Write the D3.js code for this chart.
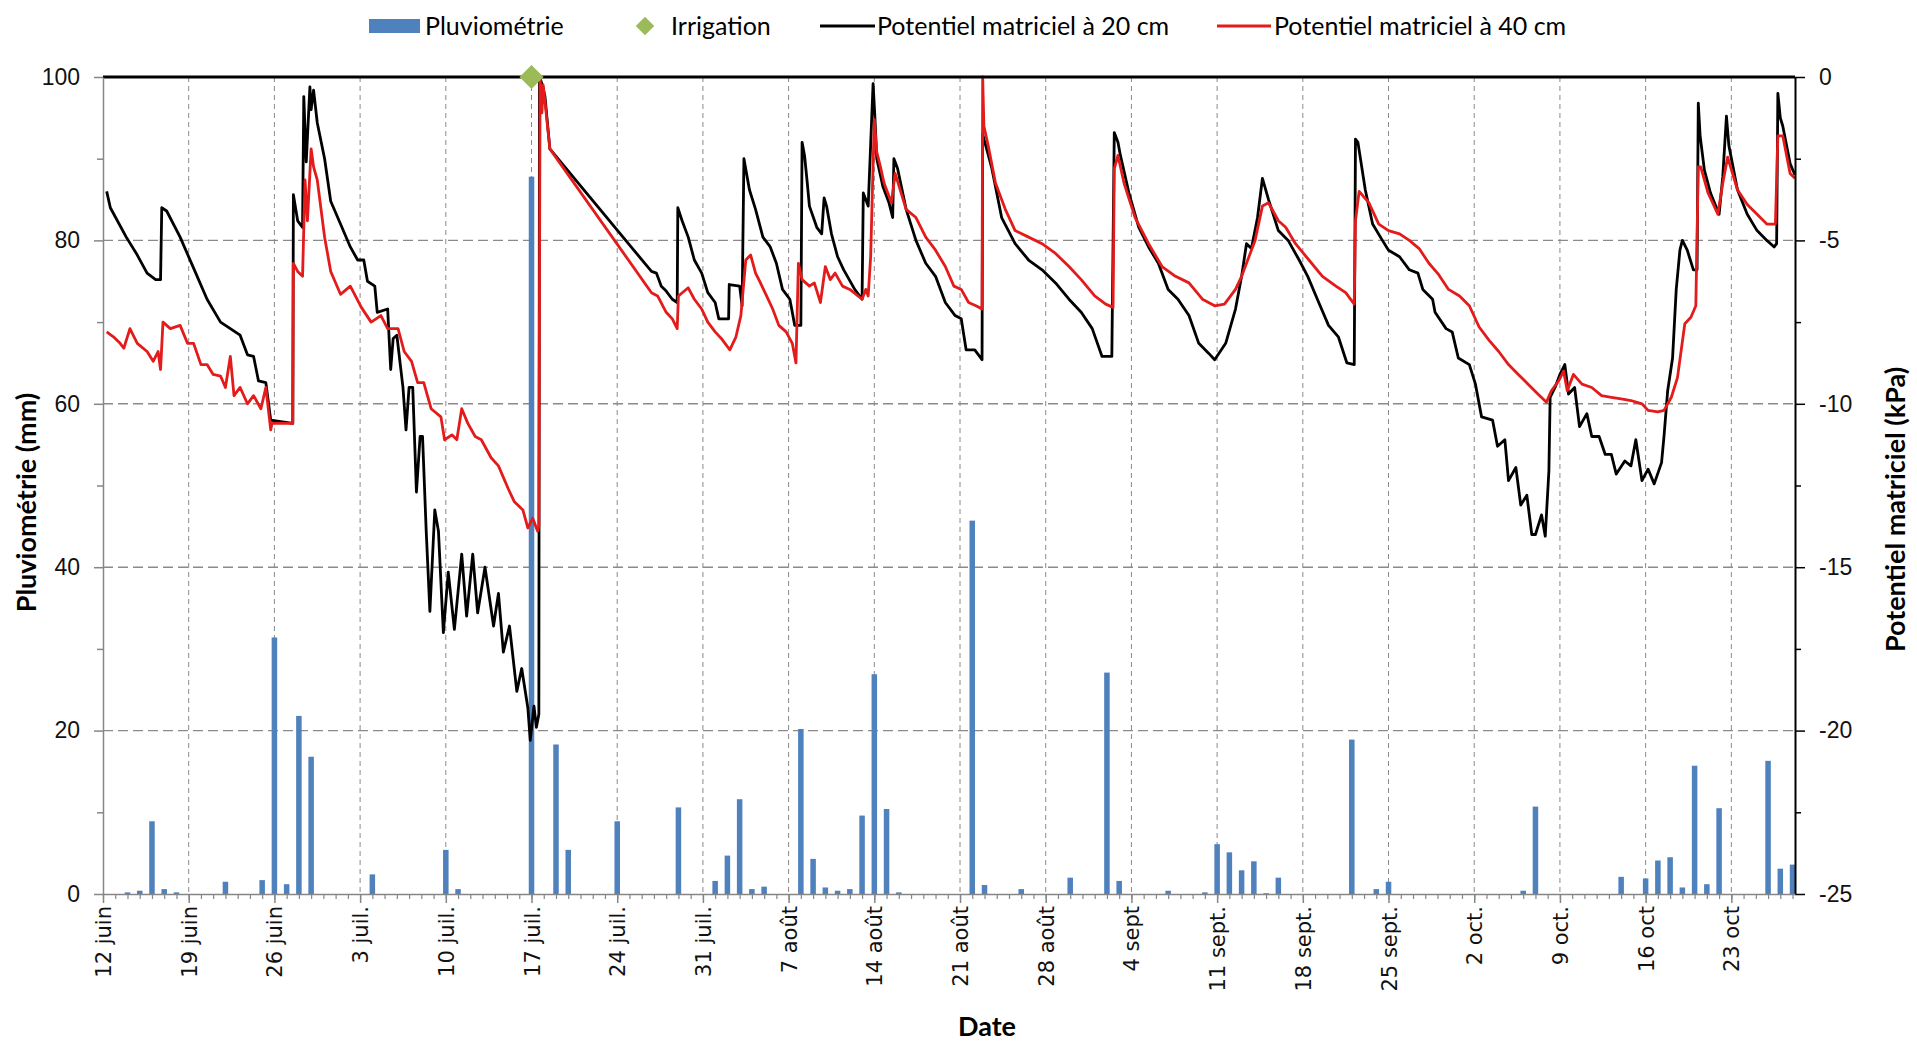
<!DOCTYPE html>
<html>
<head>
<meta charset="utf-8">
<script src="https://cdn.jsdelivr.net/npm/d3@7"></script>
<style>
  html, body { margin: 0; padding: 0; background: #fff; }
  svg { display: block; }
</style>
</head>
<body>
<div id="chart"></div>
<script>
// ---- data ----
// daily rainfall (mm)
const rainDates = [
  "2017-06-14", "2017-06-15", "2017-06-16", "2017-06-17", "2017-06-18", "2017-06-22",
  "2017-06-25", "2017-06-26", "2017-06-27", "2017-06-28", "2017-06-29", "2017-07-04",
  "2017-07-10", "2017-07-11", "2017-07-17", "2017-07-19", "2017-07-20", "2017-07-24",
  "2017-07-29", "2017-08-01", "2017-08-02", "2017-08-03", "2017-08-04", "2017-08-05",
  "2017-08-08", "2017-08-09", "2017-08-10", "2017-08-11", "2017-08-12", "2017-08-13",
  "2017-08-14", "2017-08-15", "2017-08-16", "2017-08-22", "2017-08-23", "2017-08-26",
  "2017-08-30", "2017-09-02", "2017-09-03", "2017-09-07", "2017-09-10", "2017-09-11",
  "2017-09-12", "2017-09-13", "2017-09-14", "2017-09-15", "2017-09-16", "2017-09-22",
  "2017-09-24", "2017-09-25", "2017-10-06", "2017-10-07", "2017-10-14", "2017-10-16",
  "2017-10-17", "2017-10-18", "2017-10-19", "2017-10-20", "2017-10-21", "2017-10-22",
  "2017-10-26", "2017-10-27", "2017-10-28"
];
const rainMm = [
  0.2, 0.4, 8.9, 0.6, 0.2, 1.5,
  1.7, 31.4, 1.2, 21.8, 16.8, 2.4,
  5.4, 0.6, 87.8, 18.3, 5.4, 8.9,
  10.6, 1.6, 4.7, 11.6, 0.6, 0.9,
  20.2, 4.3, 0.8, 0.4, 0.6, 9.6,
  26.9, 10.4, 0.2, 45.7, 1.1, 0.6,
  2.0, 27.1, 1.6, 0.4, 0.2, 6.1,
  5.1, 2.9, 4.0, 0.1, 2.0, 18.9,
  0.6, 1.5, 0.4, 10.7, 2.1, 1.9,
  4.1, 4.5, 0.8, 15.7, 1.2, 10.5,
  16.3, 3.1, 3.6
];

// irrigation events (drawn at the top of the rainfall axis)
const irrigationDates = ["2017-07-17"];
const irrigationLevel = [100];

// matric potential (kPa): [days since 12 June, value]
const potential20 = [
  [0.3,-3.5],[0.6,-4.0],[1.9,-4.9],[2.8,-5.45],[3.6,-6.0],[4.3,-6.2],[4.7,-6.2],[4.8,-4.0],
  [5.2,-4.1],[6.3,-4.9],[7.4,-5.85],[8.5,-6.8],[9.6,-7.5],[10.4,-7.7],[11.2,-7.9],[11.8,-8.5],
  [12.3,-8.55],[12.7,-9.3],[13.3,-9.35],[13.7,-10.5],[15.5,-10.6],[15.55,-3.6],[15.9,-4.4],
  [16.3,-4.6],[16.4,-0.6],[16.6,-2.6],[16.9,-0.3],[17.0,-1.0],[17.2,-0.4],[17.5,-1.4],
  [18.1,-2.5],[18.6,-3.8],[19.4,-4.5],[20.2,-5.2],[20.8,-5.6],[21.3,-5.6],[21.6,-6.25],
  [22.2,-6.4],[22.4,-7.2],[23.25,-7.1],[23.5,-8.95],[23.7,-8.0],[24.0,-7.9],[24.5,-9.5],
  [24.75,-10.8],[25.0,-9.5],[25.3,-9.5],[25.6,-12.7],[25.9,-11.0],[26.1,-11.0],[26.4,-13.9],
  [26.7,-16.35],[27.1,-13.25],[27.4,-13.9],[27.8,-17.0],[28.2,-15.15],[28.7,-16.9],
  [29.3,-14.6],[29.7,-16.5],[30.2,-14.6],[30.6,-16.4],[31.2,-15.0],[31.9,-16.8],[32.3,-15.8],
  [32.7,-17.6],[33.2,-16.8],[33.8,-18.8],[34.2,-18.1],[34.7,-19.3],[34.9,-20.3],[35.2,-19.25],
  [35.4,-19.9],[35.6,-19.5],[35.65,0],[35.9,-0.25],[36.1,-0.6],[36.5,-2.2],[44.8,-5.95],
  [45.2,-6.0],[45.6,-6.4],[46.0,-6.55],[46.5,-6.8],[46.9,-6.9],[46.95,-4.0],[47.3,-4.4],
  [47.8,-4.9],[48.3,-5.6],[48.9,-6.0],[49.4,-6.6],[50.0,-6.9],[50.3,-7.4],[51.1,-7.4],
  [51.15,-6.35],[52.0,-6.4],[52.2,-7.0],[52.35,-2.5],[52.8,-3.45],[53.3,-4.05],[53.9,-4.9],
  [54.5,-5.2],[55.0,-5.7],[55.5,-6.5],[56.1,-6.8],[56.5,-7.6],[57.0,-7.6],[57.1,-2.0],
  [57.3,-2.4],[57.5,-3.15],[57.7,-3.95],[58.3,-4.6],[58.7,-4.8],[58.9,-3.7],[59.1,-3.95],
  [59.5,-4.8],[60.0,-5.5],[60.5,-5.9],[61.1,-6.3],[61.4,-6.5],[62.0,-6.8],[62.1,-3.55],
  [62.5,-3.95],[62.9,-0.2],[63.05,-1.25],[63.2,-2.5],[63.7,-3.35],[64.2,-3.85],[64.5,-4.3],
  [64.6,-2.5],[64.9,-2.8],[65.6,-4.05],[66.4,-5.0],[67.2,-5.7],[68.0,-6.1],[68.8,-6.9],
  [69.6,-7.3],[70.1,-7.4],[70.5,-8.35],[71.2,-8.35],[71.8,-8.65],[71.85,-1.75],[72.6,-2.8],
  [73.4,-4.3],[74.5,-5.1],[75.6,-5.6],[76.7,-5.9],[77.8,-6.3],[78.9,-6.8],[79.9,-7.2],
  [80.8,-7.7],[81.6,-8.55],[82.4,-8.55],[82.6,-1.7],[82.9,-2.0],[83.1,-2.4],[83.8,-3.55],
  [84.6,-4.6],[85.4,-5.2],[86.2,-5.7],[87.0,-6.5],[87.8,-6.8],[88.7,-7.3],[89.5,-8.15],
  [90.3,-8.45],[90.8,-8.65],[91.7,-8.15],[92.5,-7.1],[93.0,-6.1],[93.4,-5.1],[93.8,-5.25],
  [94.3,-4.3],[94.7,-3.1],[95.2,-3.75],[96.0,-4.7],[96.8,-5.0],[97.7,-5.6],[98.4,-6.1],
  [99.3,-6.9],[100.1,-7.6],[100.9,-7.95],[101.6,-8.75],[102.2,-8.8],[102.3,-1.9],[102.5,-2.0],
  [103.1,-3.45],[103.7,-4.5],[104.5,-5.0],[105.0,-5.3],[105.9,-5.5],[106.7,-5.9],[107.4,-6.0],
  [107.8,-6.5],[108.6,-6.8],[108.8,-7.2],[109.7,-7.7],[110.2,-7.8],[110.7,-8.6],[111.6,-8.8],
  [112.1,-9.4],[112.6,-10.4],[113.5,-10.5],[113.9,-11.3],[114.5,-11.1],[114.8,-12.35],
  [115.4,-11.95],[115.8,-13.1],[116.3,-12.8],[116.7,-14.0],[117.0,-14.0],[117.5,-13.4],
  [117.8,-14.05],[118.1,-12.05],[118.2,-9.8],[118.6,-9.5],[119.0,-9.1],[119.4,-8.8],
  [119.7,-9.7],[120.2,-9.5],[120.6,-10.7],[121.2,-10.3],[121.6,-11.0],[122.2,-11.0],
  [122.7,-11.55],[123.2,-11.55],[123.6,-12.15],[124.3,-11.75],[124.8,-11.9],[125.2,-11.1],
  [125.7,-12.35],[126.2,-12.0],[126.7,-12.45],[127.3,-11.8],[127.5,-11.0],[127.8,-9.6],
  [128.2,-8.6],[128.5,-6.5],[128.8,-5.3],[129.0,-5.0],[129.4,-5.3],[129.9,-5.9],[130.2,-5.9],
  [130.3,-0.8],[130.45,-1.8],[130.8,-2.85],[131.3,-3.55],[132.0,-4.2],[132.3,-3.05],
  [132.6,-1.2],[132.8,-2.1],[133.5,-3.45],[134.3,-4.2],[135.1,-4.7],[135.9,-5.0],[136.5,-5.2],
  [136.7,-5.1],[136.8,-0.5],[137.0,-1.25],[137.2,-1.5],[137.8,-2.65],[138.2,-3.0]
];
const potential40 = [
  [0.3,-7.8],[0.85,-7.95],[1.4,-8.15],[1.7,-8.3],[2.2,-7.7],[2.8,-8.15],[3.6,-8.4],[4.1,-8.7],
  [4.5,-8.4],[4.7,-8.95],[4.9,-7.5],[5.5,-7.7],[6.3,-7.6],[6.9,-8.15],[7.4,-8.15],[8.0,-8.8],
  [8.5,-8.8],[9.0,-9.1],[9.6,-9.15],[10.0,-9.5],[10.4,-8.55],[10.7,-9.75],[11.2,-9.5],
  [11.8,-10.0],[12.3,-9.75],[12.9,-10.15],[13.3,-9.5],[13.7,-10.8],[13.8,-10.6],[15.5,-10.6],
  [15.55,-5.7],[15.9,-5.95],[16.3,-6.1],[16.5,-3.15],[16.7,-4.4],[17.0,-2.2],[17.2,-2.75],
  [17.5,-3.15],[18.1,-4.9],[18.6,-5.95],[19.4,-6.65],[20.2,-6.4],[21.1,-7.05],[21.9,-7.5],
  [22.7,-7.3],[23.25,-7.7],[24.1,-7.7],[24.6,-8.4],[25.2,-8.7],[25.7,-9.35],[26.2,-9.35],
  [26.8,-10.15],[27.6,-10.4],[27.9,-11.1],[28.5,-10.95],[28.9,-11.1],[29.3,-10.15],
  [29.8,-10.6],[30.4,-11.0],[30.9,-11.1],[31.7,-11.65],[32.3,-11.9],[33.1,-12.6],[33.6,-13.0],
  [34.3,-13.25],[34.7,-13.8],[35.1,-13.5],[35.5,-13.9],[35.6,-13.75],[35.7,0],[35.85,-1.1],
  [35.95,-0.25],[36.1,-0.75],[36.5,-2.2],[44.8,-6.6],[45.3,-6.7],[46.0,-7.2],[46.5,-7.4],
  [46.9,-7.7],[47.0,-6.7],[47.8,-6.45],[48.3,-6.8],[48.9,-7.1],[49.4,-7.5],[50.0,-7.8],
  [50.5,-8.0],[51.2,-8.35],[51.7,-7.95],[52.1,-7.3],[52.5,-5.6],[52.9,-5.45],[53.3,-6.0],
  [53.7,-6.3],[54.2,-6.7],[54.7,-7.1],[55.2,-7.6],[55.8,-7.8],[56.3,-8.15],[56.6,-8.75],
  [56.8,-5.7],[57.1,-6.2],[57.7,-6.4],[58.1,-6.3],[58.6,-6.9],[59.0,-5.8],[59.4,-6.2],
  [59.8,-6.0],[60.4,-6.4],[61.0,-6.5],[62.0,-6.8],[62.3,-6.5],[62.5,-6.7],[62.7,-5.5],
  [63.0,-1.3],[63.2,-2.3],[63.5,-2.75],[63.8,-3.25],[64.4,-3.85],[64.7,-2.95],[65.6,-4.05],
  [66.4,-4.3],[67.2,-4.9],[68.0,-5.3],[68.8,-5.8],[69.5,-6.4],[70.1,-6.5],[70.7,-6.9],
  [71.3,-7.0],[71.8,-7.1],[71.85,0],[71.95,-1.5],[72.3,-2.1],[72.9,-3.25],[73.7,-4.05],
  [74.5,-4.7],[75.6,-4.9],[76.7,-5.1],[77.8,-5.4],[78.9,-5.8],[79.9,-6.2],[81.0,-6.7],
  [81.9,-6.95],[82.5,-7.05],[82.6,-2.8],[82.9,-2.4],[83.4,-3.25],[84.3,-4.3],[85.4,-5.1],
  [86.5,-5.8],[87.6,-6.1],[88.7,-6.3],[89.8,-6.8],[90.8,-7.0],[91.6,-6.95],[92.5,-6.5],
  [93.0,-6.1],[93.6,-5.5],[94.1,-5.0],[94.7,-3.95],[95.2,-3.85],[96.0,-4.4],[96.6,-4.6],
  [97.4,-5.1],[98.5,-5.6],[99.6,-6.1],[100.7,-6.4],[101.5,-6.6],[102.2,-6.95],[102.3,-4.4],
  [102.6,-3.5],[103.4,-3.85],[104.2,-4.5],[105.0,-4.7],[105.9,-4.8],[106.7,-5.0],[107.5,-5.25],
  [108.3,-5.7],[109.1,-6.05],[109.9,-6.5],[110.8,-6.7],[111.6,-7.0],[112.4,-7.65],[113.2,-8.05],
  [114.0,-8.4],[114.8,-8.8],[115.6,-9.1],[116.4,-9.4],[117.2,-9.7],[117.9,-9.95],[118.3,-9.6],
  [118.9,-9.3],[119.3,-9.0],[119.6,-9.6],[120.1,-9.1],[120.8,-9.4],[121.6,-9.5],[122.4,-9.75],
  [123.2,-9.8],[124.0,-9.85],[124.8,-9.9],[125.7,-10.0],[126.2,-10.2],[127.0,-10.25],
  [127.5,-10.2],[128.1,-9.8],[128.6,-9.2],[129.2,-7.55],[129.7,-7.35],[130.1,-7.0],
  [130.3,-2.75],[130.5,-2.75],[131.1,-3.55],[131.9,-4.2],[132.3,-3.25],[132.7,-2.45],
  [133.5,-3.45],[134.3,-3.9],[135.1,-4.2],[135.9,-4.5],[136.6,-4.5],[136.8,-1.8],[137.2,-1.8],
  [137.8,-2.95],[138.2,-3.1]
];

// axis ticks
const rainTicks = [0, 20, 40, 60, 80, 100];
const rainMinorTicks = [10, 30, 50, 70, 90];
const potentialTicks = [-25, -20, -15, -10, -5, 0];
const potentialMinorTicks = [-22.5, -17.5, -12.5, -7.5, -2.5];
const xTickLabels = [
  "12 juin", "19 juin", "26 juin", "3 juil.", "10 juil.", "17 juil.", "24 juil.",
  "31 juil.", "7 août", "14 août", "21 août", "28 août", "4 sept", "11 sept.",
  "18 sept.", "25 sept.", "2 oct.", "9 oct.", "16 oct", "23 oct"
];

// ---- chart ----
const width = 1917, height = 1042;
const margin = {top: 77, right: 122, bottom: 148, left: 103};
const DAY = 864e5;
const t0 = Date.UTC(2017, 5, 12);
const t1 = t0 + 138.2 * DAY;
const dayToDate = d => new Date(t0 + d * DAY);
const parseDay = d3.utcParse("%Y-%m-%d");

const colors = {
    rain: "#4f81bd",
    irrigation: "#9bbb59",
    p20: "#000000",
    p40: "#e31b1b",
    grid: "#8a8a8a",
    axisGrey: "#868686"
};

const svg = d3.select("#chart").append("svg")
    .attr("width", width)
    .attr("height", height)
    .style("font-family", "Lato, 'Noto Sans', sans-serif");

const x = d3.scaleUtc()
    .domain([t0, t1])
    .range([margin.left, width - margin.right]);

const yRain = d3.scaleLinear()
    .domain([0, 100])
    .range([height - margin.bottom, margin.top]);

const yPot = d3.scaleLinear()
    .domain([-25, 0])
    .range([height - margin.bottom, margin.top]);

const x0 = x.range()[0], x1 = x.range()[1];
const yTop = yRain(100), yBottom = yRain(0);

svg.append("clipPath").attr("id", "plot-clip")
    .append("rect")
    .attr("x", x0).attr("y", yTop - 2)
    .attr("width", x1 - x0).attr("height", yBottom - yTop + 2);

// gridlines
const weekTicks = d3.utcMonday.range(t0, t1 + 1);

svg.append("g").selectAll("line")
    .data(rainTicks.filter(d => d > 0 && d < 100))
    .join("line")
    .attr("x1", x0).attr("x2", x1)
    .attr("y1", d => yRain(d)).attr("y2", d => yRain(d))
    .attr("stroke", colors.grid)
    .attr("stroke-width", 1.4)
    .attr("stroke-dasharray", "10,5");

svg.append("g").selectAll("line")
    .data(weekTicks.slice(1))
    .join("line")
    .attr("x1", d => x(d)).attr("x2", d => x(d))
    .attr("y1", yTop).attr("y2", yBottom)
    .attr("stroke", colors.grid)
    .attr("stroke-width", 1)
    .attr("stroke-dasharray", "5,4");

// rainfall bars
const rain = rainDates.map((d, i) => ({date: parseDay(d), mm: rainMm[i]}));
const barW = (x(dayToDate(1)) - x(dayToDate(0))) * 0.45;

svg.append("g")
    .attr("clip-path", "url(#plot-clip)")
    .selectAll("rect")
    .data(rain)
    .join("rect")
    .attr("x", d => x(d.date) - barW / 2)
    .attr("y", d => yRain(d.mm))
    .attr("width", barW)
    .attr("height", d => yRain(0) - yRain(d.mm))
    .attr("fill", colors.rain);

// potential lines
const line = d3.line()
    .x(d => x(dayToDate(d[0])))
    .y(d => yPot(d[1]));

svg.append("path")
    .datum(potential20)
    .attr("d", line)
    .attr("fill", "none")
    .attr("stroke", colors.p20)
    .attr("stroke-width", 2.8)
    .attr("stroke-linejoin", "round");

svg.append("path")
    .datum(potential40)
    .attr("d", line)
    .attr("fill", "none")
    .attr("stroke", colors.p40)
    .attr("stroke-width", 2.8)
    .attr("stroke-linejoin", "round");

// top border
svg.append("line")
    .attr("x1", x0).attr("x2", x1)
    .attr("y1", yTop).attr("y2", yTop)
    .attr("stroke", "#000")
    .attr("stroke-width", 3);

// irrigation marker
const diamond = d3.symbol().type(d3.symbolSquare).size(290);
svg.append("g").selectAll("path")
    .data(irrigationDates.map((d, i) => ({date: parseDay(d), v: irrigationLevel[i]})))
    .join("path")
    .attr("d", diamond)
    .attr("transform", d => `translate(${x(d.date)},${yRain(d.v)}) rotate(45)`)
    .attr("fill", colors.irrigation);

// axes
function styleTicks(g, size) {
    g.selectAll("text")
        .attr("fill", "#111")
        .style("font-size", size + "px");
}

const leftAxis = svg.append("g")
    .attr("transform", `translate(${x0},0)`)
    .call(d3.axisLeft(yRain).tickValues(rainTicks).tickSize(9).tickPadding(14).tickSizeOuter(0));
leftAxis.select(".domain").attr("stroke", colors.axisGrey).attr("stroke-width", 1.5);
leftAxis.selectAll(".tick line").attr("stroke", colors.axisGrey).attr("stroke-width", 1.5);
styleTicks(leftAxis, 23);

svg.append("g")
    .attr("transform", `translate(${x0},0)`)
    .call(d3.axisLeft(yRain).tickValues(rainMinorTicks).tickSize(6).tickFormat(""))
    .call(g => g.select(".domain").remove())
    .selectAll("line").attr("stroke", colors.axisGrey).attr("stroke-width", 1.5);

const rightAxis = svg.append("g")
    .attr("transform", `translate(${x1},0)`)
    .call(d3.axisRight(yPot).tickValues(potentialTicks).tickSize(10).tickPadding(14).tickSizeOuter(0)
        .tickFormat(d => d === 0 ? "0" : "-" + Math.abs(d)));
rightAxis.select(".domain").attr("stroke", "#000").attr("stroke-width", 2);
rightAxis.selectAll(".tick line").attr("stroke", "#000").attr("stroke-width", 1.5);
styleTicks(rightAxis, 23);

svg.append("g")
    .attr("transform", `translate(${x1},0)`)
    .call(d3.axisRight(yPot).tickValues(potentialMinorTicks).tickSize(6).tickFormat(""))
    .call(g => g.select(".domain").remove())
    .selectAll("line").attr("stroke", "#000").attr("stroke-width", 1.5);

const bottomAxis = svg.append("g")
    .attr("transform", `translate(0,${yBottom})`)
    .call(d3.axisBottom(x).tickValues(weekTicks).tickSize(9).tickSizeOuter(0)
        .tickFormat((d, i) => xTickLabels[i]));
bottomAxis.select(".domain").attr("stroke", colors.axisGrey).attr("stroke-width", 1.5);
bottomAxis.selectAll(".tick line").attr("stroke", colors.axisGrey).attr("stroke-width", 1.5);
bottomAxis.selectAll("text")
    .attr("transform", "rotate(-90)")
    .attr("x", -12)
    .attr("y", 0)
    .attr("dy", "0.36em")
    .attr("text-anchor", "end")
    .attr("fill", "#111")
    .style("font-family", "'DejaVu Sans', sans-serif")
    .style("font-size", "21px");

svg.append("g")
    .attr("transform", `translate(0,${yBottom})`)
    .call(d3.axisBottom(x).tickValues(d3.utcDay.range(t0, t1)).tickSize(5).tickFormat(""))
    .call(g => g.select(".domain").remove())
    .selectAll("line").attr("stroke", colors.axisGrey).attr("stroke-width", 1.2);

// axis titles
svg.append("text")
    .attr("transform", `translate(27,${(yTop + yBottom) / 2 + 17}) rotate(-90)`)
    .attr("text-anchor", "middle")
    .attr("dy", "0.35em")
    .style("font-size", "27px")
    .style("font-weight", "bold")
    .text("Pluviométrie (mm)");

svg.append("text")
    .attr("transform", `translate(1896,${(yTop + yBottom) / 2 + 24}) rotate(-90)`)
    .attr("text-anchor", "middle")
    .attr("dy", "0.35em")
    .style("font-size", "27px")
    .style("font-weight", "bold")
    .text("Potentiel matriciel (kPa)");

svg.append("text")
    .attr("x", 987)
    .attr("y", 1027)
    .attr("text-anchor", "middle")
    .attr("dy", "0.35em")
    .style("font-size", "27px")
    .style("font-weight", "bold")
    .text("Date");

// legend
const legendY = 26;
const legend = svg.append("g").style("font-size", "25px");

legend.append("rect")
    .attr("x", 369).attr("y", legendY - 7)
    .attr("width", 51).attr("height", 14)
    .attr("fill", colors.rain);
legend.append("text").attr("x", 425).attr("y", legendY).attr("dy", "0.35em").text("Pluviométrie");

legend.append("path")
    .attr("d", d3.symbol().type(d3.symbolSquare).size(170))
    .attr("transform", `translate(645,${legendY}) rotate(45)`)
    .attr("fill", colors.irrigation);
legend.append("text").attr("x", 671).attr("y", legendY).attr("dy", "0.35em").text("Irrigation");

legend.append("line")
    .attr("x1", 820).attr("x2", 875)
    .attr("y1", legendY).attr("y2", legendY)
    .attr("stroke", colors.p20).attr("stroke-width", 3);
legend.append("text").attr("x", 877).attr("y", legendY).attr("dy", "0.35em").text("Potentiel matriciel à 20 cm");

legend.append("line")
    .attr("x1", 1217).attr("x2", 1271)
    .attr("y1", legendY).attr("y2", legendY)
    .attr("stroke", colors.p40).attr("stroke-width", 3);
legend.append("text").attr("x", 1274).attr("y", legendY).attr("dy", "0.35em").text("Potentiel matriciel à 40 cm");
</script>
</body>
</html>
